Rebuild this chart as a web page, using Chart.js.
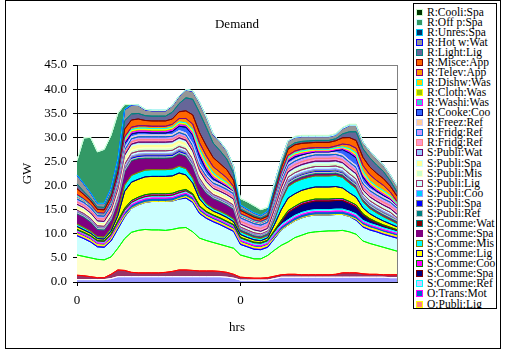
<!DOCTYPE html>
<html><head><meta charset="utf-8">
<script src="https://cdn.jsdelivr.net/npm/chart.js@4.4.1/dist/chart.umd.min.js"></script>
<style>
html,body{margin:0;padding:0;background:#fff;}
#wrap{position:relative;width:507px;height:355px;overflow:hidden;}
#c{position:absolute;left:0;top:0;}
#legend{position:absolute;left:413px;top:3px;width:82px;height:304px;border:1px solid #000;background:#fff;overflow:hidden;
 font-family:"Liberation Serif","Times New Roman",serif;font-size:11.5px;color:#000;}
.sw{position:absolute;left:2px;width:5px;height:5px;border:1px solid #000;}
.lt{position:absolute;left:13px;height:12px;line-height:12px;white-space:nowrap;}
</style></head>
<body>
<div id="wrap"><canvas id="c" width="507" height="355"></canvas><div id="legend"></div></div>
<script>
const hours = [0,1,2,3,4,5,6,7,8,9,10,11,12,13,14,15,16,17,18,19,20,21,22,23,
               0,1,2,3,4,5,6,7,8,9,10,11,12,13,14,15,16,17,18,19,20,21,22,23];
const yTicks = [0,5,10,15,20,25,30,35,40,45];

const names = ["Series 1","Series 2","Series 3","Series 4",
 "O:Publi:Lig","O:Trans:Mot","S:Comme:Ref","S:Comme:Spa","S:Comme:Coo","S:Comme:Lig","S:Comme:Mis","S:Comme:Spa","S:Comme:Wat",
 "S:Publi:Ref","S:Publi:Spa","S:Publi:Coo","S:Publi:Lig","S:Publi:Mis","S:Publi:Spa","S:Publi:Wat",
 "R:Fridg:Ref","R:Fridg:Ref","R:Freez:Ref","R:Cooke:Coo","R:Washi:Was","R:Cloth:Was","R:Dishw:Was","R:Telev:App","R:Misce:App",
 "R:Light:Lig","R:Hot w:Wat","R:Unres:Spa","R:Off p:Spa","R:Cooli:Spa"];
const fills = ["#9999FF","#993366","#FFFFCC","#CCFFFF",
 "#FF8080","#0066CC","#CCCCFF","#000080","#FF00FF","#FFFF00","#00FFFF","#800080","#800000",
 "#008080","#0000FF","#00CCFF","#CCFFFF","#CCFFCC","#FFFF99","#99CCFF",
 "#FF99CC","#CC99FF","#FFCC99","#3366FF","#33CCCC","#99CC00","#FFCC00","#FF9900","#FF6600",
 "#666699","#969696","#003366","#339966","#003300"];
const lines = ["#FFFFFF","#FF0000","#00FF00","#0000FF",
 "#FFFF00","#FF00FF","#00FFFF","#800000","#008000","#000080","#808000","#800080","#008080",
 "#C0C0C0","#808080","#9999FF","#993366","#FFFFCC","#CCFFFF","#660066",
 "#FF8080","#0066CC","#CCCCFF","#000080","#FF00FF","#FFFF00","#00FFFF","#800080","#800000",
 "#008080","#0000FF","#00CCFF","#CCFFFF","#CCFFCC"];

const s01 = [.5,.5,.5,.5,.5,.7,1.1,1.1,1.1,1.1,1.1,1.1,1.1,1.1,1.1,1.1,1.1,1.1,1.1,1.1,1.1,1.1,1.0,.8,
             .4,.4,.4,.4,.4,.7,1.0,1.0,1.0,1.0,1.0,1.0,1.0,1.0,1.0,1.0,1.0,1.0,1.0,1.0,1.0,1.0,.9,.9];
const s02 = [.9,.8,.6,.4,.4,.9,1.4,1.3,.9,.8,.8,.8,.8,.9,1.1,1.4,1.4,1.3,1.2,1.2,1.2,1.1,1.0,.8,
             .6,.5,.4,.4,.5,.5,.5,.6,.6,.5,.5,.5,.5,.5,.6,.9,.9,.9,.7,.6,.6,.5,.6,.6];
const s03 = [4.2,4.0,3.9,3.8,3.7,3.6,4.5,6.6,8.3,8.8,9.0,8.9,8.9,8.7,8.7,8.7,8.8,8.0,6.8,6.3,5.9,5.6,5.4,5.4,
             4.6,4.3,4.0,4.0,4.6,5.4,6.1,6.7,7.6,8.2,8.7,8.9,9.0,9.1,9.0,8.8,8.5,8.0,6.8,6.4,6.0,5.7,5.3,4.9];
const s04 = [4.0,3.7,3.3,2.6,2.6,3.3,4.0,4.5,5.0,5.3,5.6,5.9,5.9,6.0,5.9,6.0,6.1,6.1,5.1,4.6,4.3,4.1,3.8,3.5,
             2.2,2.1,2.0,1.9,1.7,2.4,3.2,3.5,3.5,3.6,3.5,3.5,3.4,3.3,3.4,3.3,3.2,2.9,2.9,2.8,2.8,2.7,2.7,2.7];
const oPubliLig = [.4,.4,.4,.4,.4,.4,.4,.2,0,0,0,0,0,0,0,.1,.3,.4,.4,.4,.4,.4,.4,.4,
             .4,.4,.4,.4,.4,.2,0,0,0,0,0,0,0,0,0,0,0,.2,.4,.4,.4,.4,.4,.4];
const oTransMot = [.4,.4,.4,.4,.4,.5,.6,.7,.7,.7,.7,.7,.7,.7,.7,.7,.7,.7,.6,.5,.5,.5,.5,.5,
             .4,.4,.4,.4,.4,.6,.7,.7,.7,.7,.7,.7,.7,.7,.7,.7,.7,.7,.6,.6,.55,.55,.55,.55];
const sCommeRef = [.3,.3,.3,.3,.3,.3,.35,.4,.4,.4,.4,.4,.4,.4,.4,.4,.4,.4,.35,.3,.3,.3,.3,.3,
             .35,.35,.35,.35,.35,.4,.4,.4,.4,.4,.4,.4,.4,.4,.4,.4,.4,.4,.35,.35,.35,.35,.35,.35];
const sCommeSpaC = [.1,.1,.1,.1,.1,.1,.1,.1,.1,.1,.1,.1,.1,.1,.1,.1,.1,.1,.1,.1,.1,.1,.1,.1,
             .2,.2,.2,.2,.2,.3,.6,1.5,1.5,1.7,1.7,1.8,1.8,1.8,1.8,1.8,1.6,1.5,1.2,.8,.6,.5,.4,.3];
const sCommeCoo = [.1,.1,.1,.1,.1,.15,.2,.4,.4,.4,.4,.4,.4,.4,.4,.4,.3,.2,.15,.1,.1,.1,.1,.1,
             .1,.1,.1,.1,.1,.2,.3,.4,.4,.4,.4,.4,.4,.4,.4,.4,.4,.4,.2,.2,.15,.15,.15,.15];
const sCommeLig = [.6,.5,.5,.4,.4,.6,1.1,3.5,3.8,3.7,3.7,3.6,3.6,3.6,3.6,3.7,3.0,2.2,1.4,1.0,.8,.8,.8,.6,
             .6,.5,.5,.4,.5,1.2,2.2,2.6,2.6,2.5,2.5,2.5,2.5,2.5,2.5,2.2,1.8,1.6,1.2,1.0,.9,.8,.7,.6];
const sCommeMis = [.5,.5,.4,.4,.4,.5,.8,1.3,1.4,1.4,1.4,1.4,1.4,1.4,1.4,1.4,1.3,1.0,.8,.6,.55,.55,.55,.55,
             .6,.6,.5,.5,.5,1.0,1.9,2.4,2.4,2.3,2.3,2.3,2.3,2.3,2.3,2.2,2.0,1.8,1.3,1.1,1.0,.9,.8,.7];
const sCommeSpaH = [2.0,2.0,1.8,1.4,1.4,1.6,2.0,2.5,2.8,2.6,2.2,2.1,2.1,2.1,2.1,2.3,2.3,2.2,2.1,2.0,1.9,1.9,1.9,1.9,
             .2,.2,.2,.2,.2,.2,.2,.2,.2,.2,.2,.2,.2,.2,.2,.2,.2,.2,.2,.2,.2,.2,.2,.2];
const sCommeWat = [.15,.15,.15,.1,.1,.15,.2,.3,.3,.3,.3,.3,.3,.3,.3,.3,.3,.3,.25,.2,.15,.15,.15,.15,
             .15,.15,.15,.15,.15,.2,.25,.3,.3,.3,.3,.3,.3,.3,.3,.3,.3,.3,.2,.2,.2,.2,.2,.2];
const sPubliRef = [.2,.2,.2,.2,.2,.2,.2,.2,.2,.2,.2,.2,.2,.2,.2,.2,.2,.2,.2,.2,.2,.2,.2,.2,
             .2,.2,.2,.2,.2,.2,.2,.2,.2,.2,.2,.2,.2,.2,.2,.2,.2,.2,.2,.2,.2,.2,.2,.2];
const sPubliSpaC = [.3,.3,.3,.3,.3,.3,.4,.5,.5,.5,.5,.5,.5,.5,.5,.5,.5,.5,.4,.35,.3,.3,.3,.3,
             .1,.1,.1,.1,.1,.2,.3,.4,.4,.4,.4,.4,.4,.4,.4,.4,.4,.4,.3,.3,.3,.3,.3,.2];
const sPubliCoo = [.05,.05,.05,.05,.05,.05,.1,.2,.2,.2,.2,.2,.2,.2,.2,.2,.2,.15,.1,.07,.05,.05,.05,.05,
             .1,.1,.1,.1,.1,.15,.2,.25,.25,.25,.25,.25,.25,.25,.25,.25,.25,.25,.2,.2,.2,.2,.2,.1];
const sPubliLig = [.2,.2,.2,.2,.2,.3,.4,.6,.6,.6,.6,.6,.6,.6,.6,.6,.6,.6,.5,.4,.3,.3,.3,.3,
             .2,.2,.2,.2,.2,.4,.5,.6,.6,.6,.6,.6,.6,.6,.6,.6,.6,.6,.5,.5,.5,.5,.5,.3];
const sPubliMis = [.3,.3,.3,.3,.3,.3,.4,.6,.6,.6,.6,.6,.6,.6,.6,.6,.6,.5,.4,.35,.3,.3,.3,.3,
             .3,.3,.3,.2,.2,.4,.5,.6,.6,.6,.6,.6,.6,.6,.6,.6,.6,.6,.4,.4,.4,.4,.4,.3];
const sPubliSpaH = [.7,.7,.6,.5,.5,.6,.7,.9,.9,.9,.8,.8,.8,.8,.8,.8,.8,.8,.8,.75,.7,.7,.7,.7,
             .1,.1,.1,.1,.1,.1,.1,.1,.1,.1,.1,.1,.1,.1,.1,.1,.1,.1,.1,.1,.1,.1,.1,.1];
const sPubliWat = [.2,.2,.2,.2,.2,.2,.3,.4,.4,.4,.4,.4,.4,.4,.4,.4,.4,.4,.3,.3,.25,.25,.25,.25,
             .2,.2,.2,.2,.2,.3,.35,.4,.4,.4,.4,.4,.4,.4,.4,.4,.4,.4,.3,.3,.3,.3,.3,.3];
const rFridgRef1 = [.5,.5,.5,.5,.5,.5,.5,.5,.5,.5,.5,.5,.5,.5,.5,.5,.5,.5,.5,.5,.5,.5,.5,.5,
             .6,.6,.6,.6,.6,.6,.6,.6,.6,.6,.6,.6,.6,.6,.6,.6,.6,.6,.6,.6,.6,.6,.6,.6];
const rFridgRef2 = [.6,.6,.6,.6,.6,.6,.6,.6,.6,.6,.6,.6,.6,.6,.6,.6,.6,.6,.6,.6,.6,.6,.6,.6,
             .7,.7,.7,.7,.7,.7,.7,.7,.7,.7,.7,.7,.7,.7,.7,.7,.7,.7,.7,.7,.7,.7,.7,.7];
const rFreezRef = [.4,.4,.4,.4,.4,.4,.4,.4,.4,.4,.4,.4,.4,.4,.4,.4,.4,.4,.4,.4,.4,.4,.4,.4,
             .4,.4,.4,.4,.4,.4,.4,.4,.4,.4,.4,.4,.4,.4,.4,.4,.4,.4,.4,.4,.4,.4,.4,.4];
const rCookeCoo = [.05,.03,.02,.02,.02,.2,.5,.9,.6,.5,.5,.4,.4,.4,.6,.9,1.2,1.8,1.6,.9,.5,.3,.15,.15,
             .05,.05,.05,.05,.05,.4,.5,.5,.5,.3,.25,.2,.2,.2,.4,1.0,1.5,1.6,1.0,.6,.4,.3,.2,.1];
const rWashiWas = [.05,.03,.02,.02,.02,.05,.1,.3,.3,.3,.3,.3,.3,.3,.3,.3,.3,.4,.5,.5,.4,.3,.3,.1,
             .05,.05,.05,.05,.05,.1,.2,.3,.3,.3,.2,.2,.2,.2,.2,.2,.3,.3,.4,.3,.3,.3,.2,.1];
const rClothWas = [.05,.03,.02,.02,.02,.05,.1,.3,.4,.4,.4,.4,.4,.4,.4,.4,.4,.4,.4,.4,.3,.25,.25,.1,
             .05,.05,.05,.05,.05,.1,.2,.3,.3,.3,.3,.2,.2,.2,.2,.2,.3,.3,.3,.3,.3,.3,.3,.15];
const rDishwWas = [.1,.05,.04,.03,.03,.05,.1,.3,.2,.2,.2,.2,.2,.2,.2,.2,.2,.4,.5,.6,.5,.4,.3,.15,
             .1,.1,.05,.05,.05,.1,.15,.2,.2,.2,.2,.15,.15,.15,.15,.15,.3,.4,.5,.4,.4,.4,.25,.1];
const rTelevApp = [.3,.2,.15,.12,.12,.2,.3,.5,.5,.5,.5,.5,.5,.5,.6,.7,.9,1.1,1.3,1.4,1.3,1.2,1.0,.6,
             .2,.2,.15,.15,.15,.3,.35,.4,.4,.4,.35,.35,.35,.35,.4,.6,.8,1.0,1.2,1.3,1.2,1.1,.8,.5];
const rMisceApp = [1.2,.9,.8,.7,.7,.9,1.0,1.6,1.5,1.4,1.1,1.1,1.1,1.1,1.1,1.4,1.6,1.9,2.1,2.1,1.9,1.8,1.7,1.3,
             .7,.6,.6,.5,.5,.9,1.1,1.3,1.3,1.2,1.1,1.1,1.1,1.1,1.1,1.3,1.5,1.6,1.7,1.6,1.5,1.4,1.2,1.1];
const rLightLig = [1.0,.6,.5,.5,.5,.6,1.0,1.75,1.25,1.15,1.0,1.0,1.0,1.0,1.4,1.7,2.7,3.25,4.15,3.8,3.0,2.7,2.2,1.4,
             .3,.25,.25,.2,.3,.5,.4,.4,.4,.4,.4,.4,.4,.4,.4,.8,1.2,1.8,1.8,1.9,1.7,1.5,1.1,.9];
const rHotwWat = [1.8,1.6,1.1,.7,.8,1.1,1.55,2.25,1.85,1.65,1.2,1.1,1.1,1.1,1.3,1.5,1.6,1.65,2.05,2.1,1.8,1.8,1.7,1.4,
             .8,.7,.6,.5,.7,1.3,1.2,1.3,1.1,1.0,.9,.8,.8,.8,.8,1.1,1.3,1.3,1.3,1.4,1.3,1.3,1.2,1.2];
const rUnresSpa = [.05,.05,.05,.05,.05,.05,.1,.1,.1,.1,.1,.1,.1,.1,.1,.1,.1,.1,.1,.1,.1,.1,.1,.1,
             .05,.05,.05,.05,.05,.05,.05,.05,.05,.05,.05,.05,.05,.05,.05,.05,.05,.05,.05,.05,.05,.05,.05,.05];
const rOffpSpa = [3.0,9.5,11.5,10.7,11.2,11.0,9.5,1.0,0,0,0,0,0,0,0,0,0,0,0,0,0,0,0,0,
             1.3,1.5,1.5,1.2,.8,0,0,0,0,0,0,0,0,0,0,0,0,0,0,0,0,0,0,0];
const rCooliSpa = [0,0,0,0,0,0,0,0,0,0,0,0,0,0,0,0,0,0,0,0,0,0,0,0,
             0,0,0,0,0,0,0,0,.2,.2,.2,.2,.2,.2,.2,.2,.2,.2,0,0,0,0,0,0];

const series = [s01,s02,s03,s04,oPubliLig,oTransMot,sCommeRef,sCommeSpaC,sCommeCoo,sCommeLig,sCommeMis,
 sCommeSpaH,sCommeWat,sPubliRef,sPubliSpaC,sPubliCoo,sPubliLig,sPubliMis,sPubliSpaH,sPubliWat,
 rFridgRef1,rFridgRef2,rFreezRef,rCookeCoo,rWashiWas,rClothWas,rDishwWas,rTelevApp,rMisceApp,
 rLightLig,rHotwWat,rUnresSpa,rOffpSpa,rCooliSpa];
const hiddenInLegend = 4;

const FONT = '"Liberation Serif","Times New Roman",serif';

const datasets = series.map((d,i)=>({
  label: names[i], data: d,
  backgroundColor: fills[i], borderColor: lines[i], borderWidth: 1,
  fill: i===0 ? 'origin' : '-1', pointRadius: 0, tension: 0
}));

// legend (reversed, as in the reference)
const lg = document.getElementById('legend');
let row = 0;
for (let i = series.length-1; i >= hiddenInLegend; i--) {
  const cy = 8 + row*10.07;
  const sw = document.createElement('div');
  sw.className='sw'; sw.style.top=(cy-3.5)+'px'; sw.style.background=fills[i]; sw.style.borderColor=lines[i];
  const t = document.createElement('div');
  t.className='lt'; t.style.top=(cy-6.5)+'px'; t.textContent=names[i];
  lg.appendChild(sw); lg.appendChild(t);
  row++;
}

// re-stroke the series outlines bottom-to-top, so upper series' outlines sit on top (spreadsheet order)
const outlinePlugin = {
  id:'outlines',
  afterDatasetsDraw(chart){
    const c = chart.ctx, a = chart.chartArea;
    c.save();
    c.beginPath(); c.rect(a.left, a.top - 1, a.right - a.left, a.bottom - a.top + 1); c.clip();
    for (let i = 0; i < chart.data.datasets.length; i++) {
      const meta = chart.getDatasetMeta(i);
      if (meta.dataset) meta.dataset.draw(c, a);
    }
    c.restore();
  },
  afterDraw(chart){
    const c = chart.ctx, a = chart.chartArea;
    c.save();
    c.strokeStyle='#808080'; c.lineWidth=1;
    c.beginPath(); c.moveTo(Math.round(a.right)+0.5, a.top); c.lineTo(Math.round(a.right)+0.5, a.bottom); c.stroke();
    c.strokeStyle='#000';
    c.strokeRect(5.5,0.5,495,348);
    c.restore();
  }
};

new Chart(document.getElementById('c'), {
  type:'line',
  data:{ labels: hours.map(String), datasets },
  options:{
    responsive:false, animation:false, devicePixelRatio:1,
    layout:{ padding:{ left:0, right:110, top:0, bottom:0 } },
    plugins:{
      legend:{ display:false }, tooltip:{ enabled:false },
      title:{ display:true, text:'Demand', fullSize:false, color:'#000',
        font:{ family:FONT, size:13, weight:'normal' }, padding:{ top:16.5, bottom:32.9 } },
      filler:{ propagate:false }
    },
    scales:{
      x:{ type:'category', offset:false,
        afterBuildTicks(s){ s.ticks = s.ticks.filter(t => t.value % 24 === 0); },
        afterFit(s){ s.height = 73; },
        ticks:{ autoSkip:false, maxRotation:0, color:'#000', font:{ family:FONT, size:13 }, padding:7 },
        grid:{ color: ctx => (ctx.tick && ctx.tick.value === 24) ? '#000' : 'rgba(0,0,0,0)', tickColor:'#000', tickLength:4, lineWidth:1 },
        border:{ color:'#000' },
        title:{ display:true, text:'hrs', color:'#000', font:{ family:FONT, size:13 }, padding:{ top:4, bottom:20 } }
      },
      y:{ stacked:true, min:0, max:45,
        afterBuildTicks(s){ s.ticks = yTicks.map(v=>({value:v})); },
        afterFit(s){ s.width = 77; },
        ticks:{ stepSize:5, color:'#000', font:{ family:FONT, size:13 }, padding:6, callback: v => Number(v).toFixed(1) },
        grid:{ color: ctx => (ctx.tick && ctx.tick.value === 45) ? '#808080' : '#000', tickColor:'#000', tickLength:4, lineWidth:1 },
        border:{ color:'#000' },
        title:{ display:true, text:'GW', color:'#000', font:{ family:FONT, size:13 }, padding:{ top:20, bottom:0 } }
      }
    }
  },
  plugins:[outlinePlugin]
});
</script>
</body></html>
